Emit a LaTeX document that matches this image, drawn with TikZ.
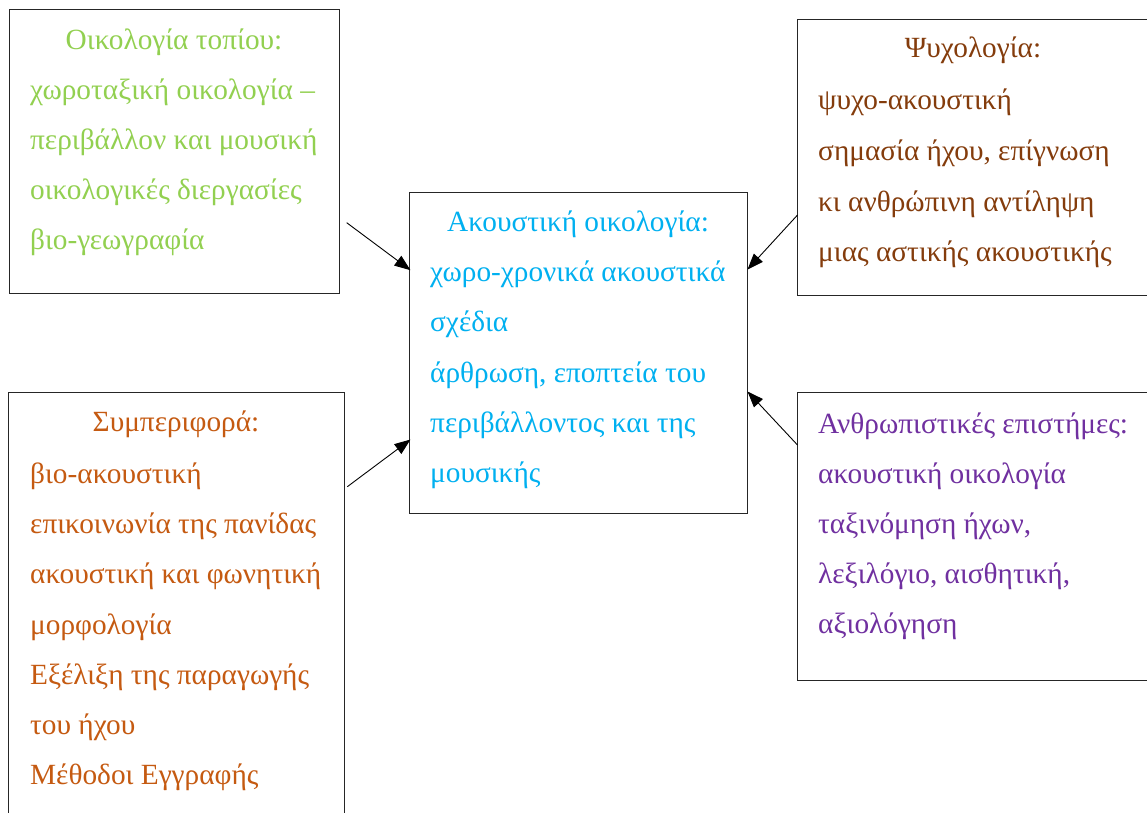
\documentclass[tikz,border=0pt]{standalone}
\usepackage{fontspec}
\setmainfont{Liberation Serif}
\usetikzlibrary{arrows.meta}
\definecolor{cgreen}{HTML}{92D050}
\definecolor{cbrown}{HTML}{843C0C}
\definecolor{cblue}{HTML}{00B0F0}
\definecolor{corange}{HTML}{C55A11}
\definecolor{cpurple}{HTML}{7030A0}
\begin{document}
\begin{tikzpicture}[x=1pt,y=-1pt,
  box/.style={draw=black!85, line width=1.1pt, anchor=north west, inner sep=0pt, outer sep=0pt},
  txt/.style={font=\fontsize{29.3pt}{34pt}\selectfont, inner sep=0pt, anchor=base west},
  ttl/.style={font=\fontsize{29.3pt}{34pt}\selectfont, inner sep=0pt, anchor=base},
  arr/.style={line width=0.9pt, -{Triangle[length=16pt,width=12pt]}}]
\useasboundingbox (0,0) rectangle (1147,812);
\fill[white] (0,0) rectangle (1147,812);
% boxes
\node[box, minimum width=330pt, minimum height=284pt] (tl) at (9.5,9.5) {};
\node[box, minimum width=360pt, minimum height=276pt] (tr) at (797.5,19.5) {};
\node[box, minimum width=338pt, minimum height=321pt] (c) at (409.5,192.5) {};
\node[box, minimum width=336pt, minimum height=440pt] (bl) at (8.5,392.5) {};
\node[box, minimum width=360pt, minimum height=288pt] (br) at (797.5,392.5) {};
% top-left text
\begin{scope}[every node/.append style={text=cgreen}]
\node[ttl] (tl0) at (174,49) {Οικολογία τοπίου:};
\node[txt] (tl1) at (30,99) {χωροταξική οικολογία –};
\node[txt] (tl2) at (30,149) {περιβάλλον και μουσική};
\node[txt] (tl3) at (30,199) {οικολογικές διεργασίες};
\node[txt] (tl4) at (30,249) {βιο-γεωγραφία};
\end{scope}
% top-right text
\begin{scope}[every node/.append style={text=cbrown}]
\node[ttl] (tr0) at (973,57) {Ψυχολογία:};
\node[txt] (tr1) at (818,109) {ψυχο-ακουστική};
\node[txt] (tr2) at (818,160) {σημασία ήχου, επίγνωση};
\node[txt] (tr3) at (818,211) {κι ανθρώπινη αντίληψη};
\node[txt] (tr4) at (818,261) {μιας αστικής ακουστικής};
\end{scope}
% centre text
\begin{scope}[every node/.append style={text=cblue}]
\node[ttl] (c0) at (578,231) {Ακουστική οικολογία:};
\node[txt] (c1) at (430,281) {χωρο-χρονικά ακουστικά};
\node[txt] (c2) at (430,331) {σχέδια};
\node[txt] (c3) at (430,382) {άρθρωση, εποπτεία του};
\node[txt] (c4) at (430,432) {περιβάλλοντος και της};
\node[txt] (c5) at (430,482) {μουσικής};
\end{scope}
% bottom-left text
\begin{scope}[every node/.append style={text=corange}]
\node[ttl] (bl0) at (176,431) {Συμπεριφορά:};
\node[txt] (bl1) at (30,483) {βιο-ακουστική};
\node[txt] (bl2) at (30,533) {επικοινωνία της πανίδας};
\node[txt] (bl3) at (30,583) {ακουστική και φωνητική};
\node[txt] (bl4) at (30,634) {μορφολογία};
\node[txt] (bl5) at (30,684) {Εξέλιξη της παραγωγής};
\node[txt] (bl6) at (30,734) {του ήχου};
\node[txt] (bl7) at (30,784) {Μέθοδοι Εγγραφής};
\end{scope}
% bottom-right text
\begin{scope}[every node/.append style={text=cpurple}]
\node[txt] (br0) at (818,433) {Ανθρωπιστικές επιστήμες:};
\node[txt] (br1) at (818,483) {ακουστική οικολογία};
\node[txt] (br2) at (818,533) {ταξινόμηση ήχων,};
\node[txt] (br3) at (818,583) {λεξιλόγιο, αισθητική,};
\node[txt] (br4) at (818,633) {αξιολόγηση};
\end{scope}
% connector end points
\coordinate (a1s) at (346.7,222.7);
\coordinate (a1e) at (410.5,270.2);
\coordinate (a2s) at (797.5,215);
\coordinate (a2e) at (747.5,269.5);
\coordinate (a3s) at (347.3,486.7);
\coordinate (a3e) at (410.5,439.5);
\coordinate (a4s) at (797.5,445);
\coordinate (a4e) at (747.5,391.5);
\draw[arr] (a1s) -- (a1e);
\draw[arr] (a2s) -- (a2e);
\draw[arr] (a3s) -- (a3e);
\draw[arr] (a4s) -- (a4e);
\end{tikzpicture}
\end{document}
